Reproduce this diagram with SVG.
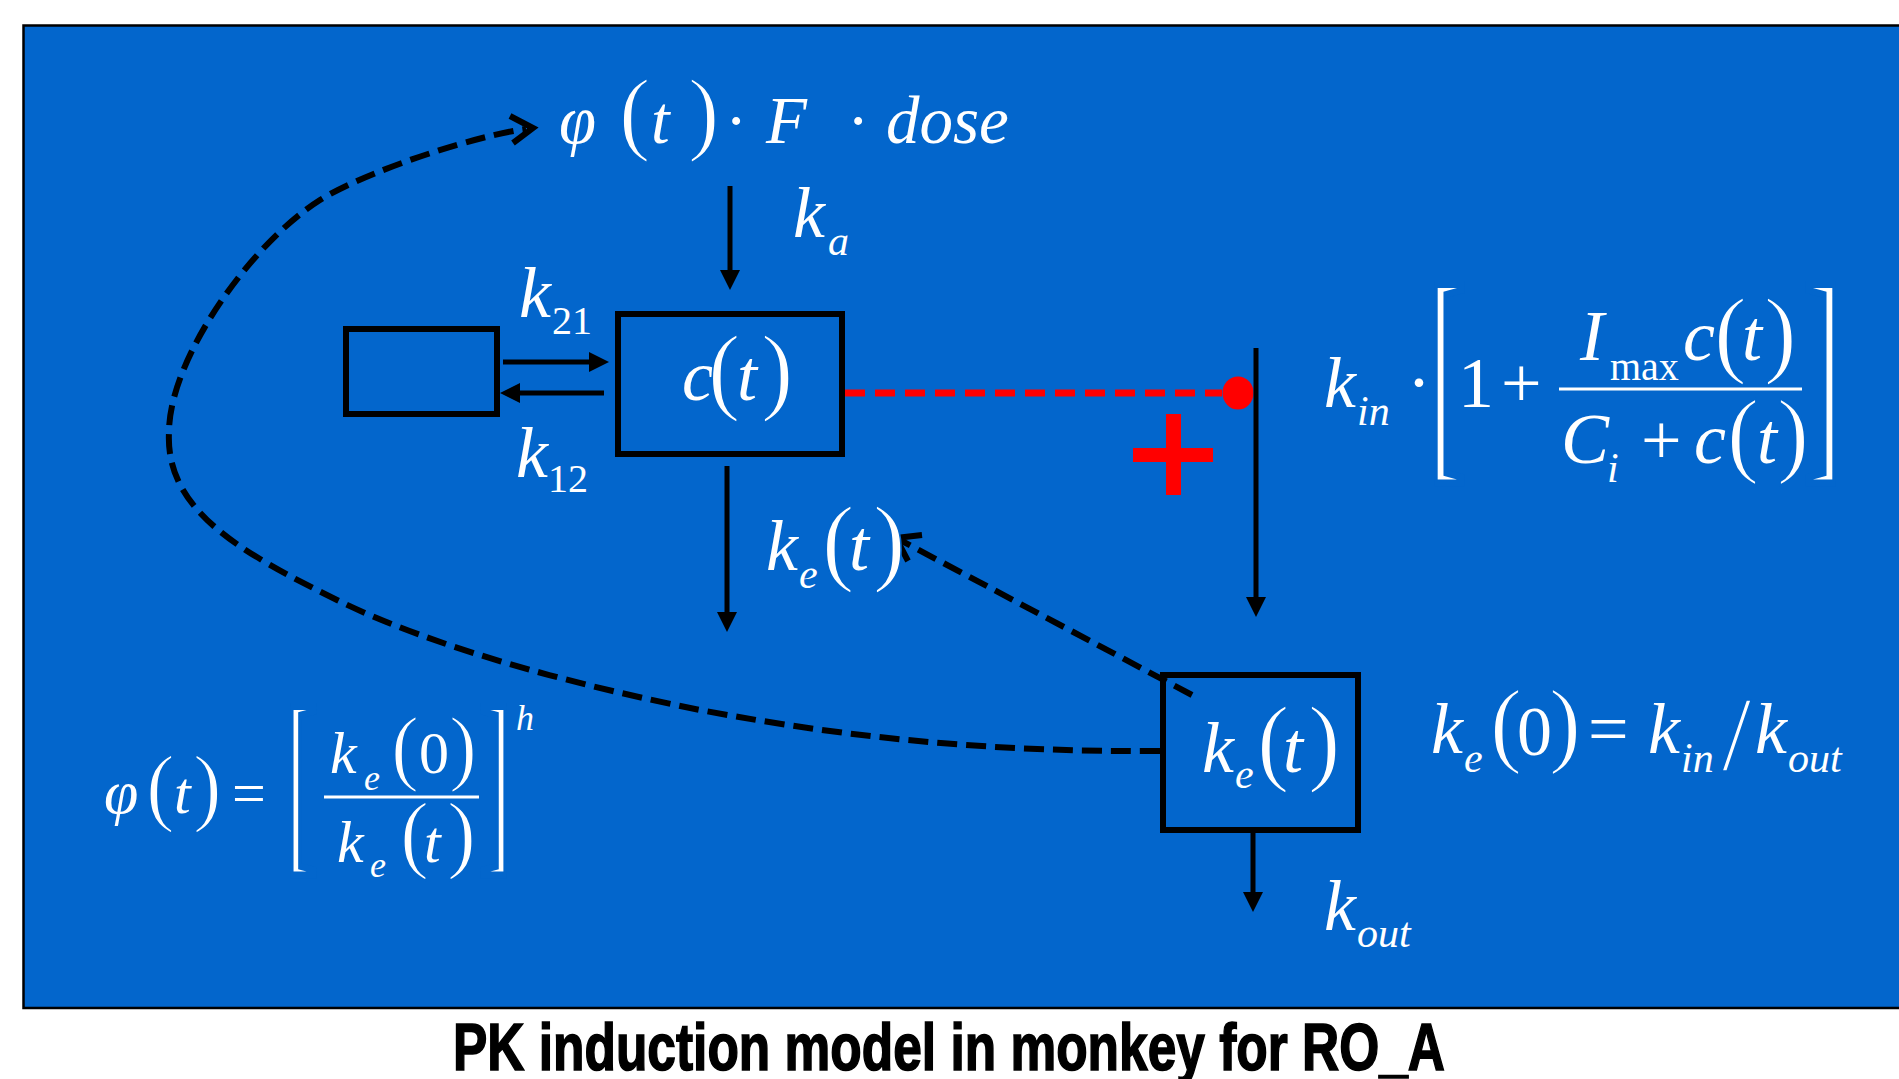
<svg xmlns="http://www.w3.org/2000/svg" width="1899" height="1079" viewBox="0 0 1899 1079">
<style>
.mi{font-family:"Liberation Serif","Times New Roman",serif;font-style:italic;fill:#fff}
.mr{font-family:"Liberation Serif","Times New Roman",serif;fill:#fff}
.pa{font-family:"Liberation Serif","Times New Roman",serif;fill:#fff;stroke:#0366cc;stroke-width:1.6}
.br{font-family:"Liberation Serif","Times New Roman",serif;fill:#fff;stroke:#0366cc;stroke-width:3.5}
.box{fill:none;stroke:#000;stroke-width:6}
.arr{fill:none;stroke:#000;stroke-width:5;marker-end:url(#head)}
.dash{fill:none;stroke:#000;stroke-width:6;stroke-dasharray:20 9}
.chev{fill:none;stroke:#000;stroke-width:6}
.bar{stroke:#fff;stroke-width:3}
</style>
<defs>
<marker id="head" markerUnits="userSpaceOnUse" markerWidth="20" markerHeight="20" refX="0" refY="10" orient="auto">
<path d="M0,0 L20,10 L0,20 z" fill="#000"/>
</marker>
</defs>
<rect x="0" y="0" width="1899" height="1079" fill="#fff"/>
<rect x="23.5" y="25.5" width="1890" height="982.5" fill="#0366cc" stroke="#000" stroke-width="2.5"/>

<g id="connectors">
<path class="dash" d="M1160,751 C1000,752 860,740 700,710 C580,686 437,649 337,600 C240,552 165,510 169,432 C169,360 250,244 320,200 C370,169 483,134 526,129"/>
<polyline class="chev" points="510,116 533,128 513,143"/>
<line class="dash" x1="1192" y1="695" x2="900" y2="540"/>
<polyline class="chev" points="922,535 896,538 908,561"/>
<line class="arr" x1="730" y1="186" x2="730" y2="270"/>
<line class="arr" x1="503" y1="362" x2="589" y2="362"/>
<line class="arr" x1="604" y1="393" x2="520" y2="393"/>
<line class="arr" x1="727" y1="466" x2="727" y2="612"/>
<line x1="845" y1="393" x2="1222" y2="393" stroke="#f00" stroke-width="7" stroke-dasharray="20 10"/>
<ellipse cx="1238" cy="393" rx="15.5" ry="16.5" fill="#f00"/>
<line class="arr" x1="1256" y1="348" x2="1256" y2="597"/>
<line class="arr" x1="1253" y1="833" x2="1253" y2="892"/>
</g>

<g id="inhibition-sign">
<rect x="1166" y="414" width="15" height="81" fill="#f00"/>
<rect x="1133" y="448" width="80" height="14" fill="#f00"/>
</g>

<g id="dose-input">
<text class="mi" font-size="67" x="559" y="143">φ</text>
<text class="pa" font-size="94" x="619" y="143">(</text>
<text class="mi" font-size="67" x="651" y="143">t</text>
<text class="pa" font-size="94" x="688" y="143">)</text>
<text class="mr" font-size="67" x="725" y="143">·</text>
<text class="mi" font-size="67" x="766" y="143">F</text>
<text class="mr" font-size="67" x="847" y="143">·</text>
<text class="mi" font-size="67" x="886" y="143">dose</text>
</g>

<g id="label-ka">
<text class="mi" font-size="72" x="793" y="237">k</text>
<text class="mi" font-size="42" x="828" y="255">a</text>
</g>

<g id="peripheral-compartment">
<rect class="box" x="346" y="329" width="151" height="85"/>
</g>

<g id="label-k21">
<text class="mi" font-size="72" x="519" y="317">k</text>
<text class="mr" font-size="40" x="552" y="334">21</text>
</g>
<g id="label-k12">
<text class="mi" font-size="72" x="516" y="477">k</text>
<text class="mr" font-size="40" x="548" y="492">12</text>
</g>

<g id="central-compartment">
<rect class="box" x="618" y="314" width="224" height="140"/>
<text class="mi" font-size="72" x="682" y="400">c</text>
<text class="pa" font-size="97" x="708" y="402">(</text>
<text class="mi" font-size="72" x="737" y="400">t</text>
<text class="pa" font-size="97" x="761" y="402">)</text>
</g>

<g id="label-ke">
<text class="mi" font-size="72" x="766" y="570">k</text>
<text class="mi" font-size="42" x="799" y="588">e</text>
<text class="pa" font-size="97" x="822" y="573">(</text>
<text class="mi" font-size="72" x="849" y="570">t</text>
<text class="pa" font-size="97" x="873" y="573">)</text>
</g>

<g id="ke-compartment">
<rect class="box" x="1163" y="675" width="195" height="155"/>
<text class="mi" font-size="72" x="1202" y="772">k</text>
<text class="mi" font-size="42" x="1235" y="788">e</text>
<text class="pa" font-size="97" x="1257" y="773">(</text>
<text class="mi" font-size="72" x="1283" y="772">t</text>
<text class="pa" font-size="97" x="1308" y="773">)</text>
</g>

<g id="label-kout">
<text class="mi" font-size="72" x="1324" y="930">k</text>
<text class="mi" font-size="42" x="1357" y="947">out</text>
</g>

<g id="ke0-equation">
<text class="mi" font-size="72" x="1431" y="753">k</text>
<text class="mi" font-size="42" x="1464" y="772">e</text>
<text class="pa" font-size="96" x="1490" y="755">(</text>
<text class="mr" font-size="70" x="1517" y="755">0</text>
<text class="pa" font-size="96" x="1549" y="755">)</text>
<text class="mr" font-size="72" x="1588" y="753">=</text>
<text class="mi" font-size="72" x="1648" y="753">k</text>
<text class="mi" font-size="42" x="1681" y="772">in</text>
<text class="pa" font-size="105" x="1722" y="770">/</text>
<text class="mi" font-size="72" x="1755" y="753">k</text>
<text class="mi" font-size="42" x="1788" y="772">out</text>
</g>

<g id="kin-equation">
<text class="mi" font-size="72" x="1324" y="407">k</text>
<text class="mi" font-size="42" x="1357" y="425">in</text>
<text class="mr" font-size="72" x="1407" y="407">·</text>
<text class="br" font-size="120" transform="translate(1427,450.6) scale(1,2)">[</text>
<text class="mr" font-size="72" x="1458" y="407">1</text>
<text class="mr" font-size="72" x="1501" y="407">+</text>
<line class="bar" x1="1559" y1="389" x2="1802" y2="389"/>
<text class="mi" font-size="72" x="1580" y="360">I</text>
<text class="mr" font-size="40" x="1610" y="380">max</text>
<text class="mi" font-size="72" x="1683" y="360">c</text>
<text class="pa" font-size="98" x="1714" y="365">(</text>
<text class="mi" font-size="72" x="1742" y="360">t</text>
<text class="pa" font-size="98" x="1764" y="365">)</text>
<text class="mi" font-size="72" x="1561" y="463">C</text>
<text class="mi" font-size="42" x="1607" y="482">i</text>
<text class="mr" font-size="72" x="1641" y="464">+</text>
<text class="mi" font-size="72" x="1694" y="463">c</text>
<text class="pa" font-size="96" x="1727" y="465">(</text>
<text class="mi" font-size="72" x="1757" y="463">t</text>
<text class="pa" font-size="96" x="1777" y="465">)</text>
<text class="br" font-size="120" transform="translate(1803,450.6) scale(1,2)">]</text>
</g>

<g id="phi-equation">
<text class="mi" font-size="62" x="104" y="813">φ</text>
<text class="pa" font-size="86" x="146" y="815">(</text>
<text class="mi" font-size="60" x="174" y="813">t</text>
<text class="pa" font-size="86" x="193" y="815">)</text>
<text class="mr" font-size="60" x="232" y="813">=</text>
<text class="br" font-size="105" transform="translate(284,848) scale(1,1.944)">[</text>
<line class="bar" x1="324" y1="797" x2="479" y2="797"/>
<text class="mi" font-size="60" x="330" y="773">k</text>
<text class="mi" font-size="36" x="364" y="790">e</text>
<text class="pa" font-size="84" x="391" y="775">(</text>
<text class="mr" font-size="60" x="419" y="773">0</text>
<text class="pa" font-size="84" x="449" y="775">)</text>
<text class="mi" font-size="60" x="337" y="862">k</text>
<text class="mi" font-size="36" x="370" y="877">e</text>
<text class="pa" font-size="87" x="400" y="862">(</text>
<text class="mi" font-size="60" x="424" y="862">t</text>
<text class="pa" font-size="87" x="447" y="862">)</text>
<text class="br" font-size="105" transform="translate(478,848) scale(1,1.944)">]</text>
<text class="mi" font-size="36" x="516" y="730">h</text>
</g>

<g id="title">
<text x="453" y="1070" font-family="'Liberation Sans',Arial,sans-serif" font-weight="bold" font-size="66" textLength="992" lengthAdjust="spacingAndGlyphs" fill="#000" stroke="#000" stroke-width="1.6">PK induction model in monkey for RO_A</text>
</g>
</svg>
